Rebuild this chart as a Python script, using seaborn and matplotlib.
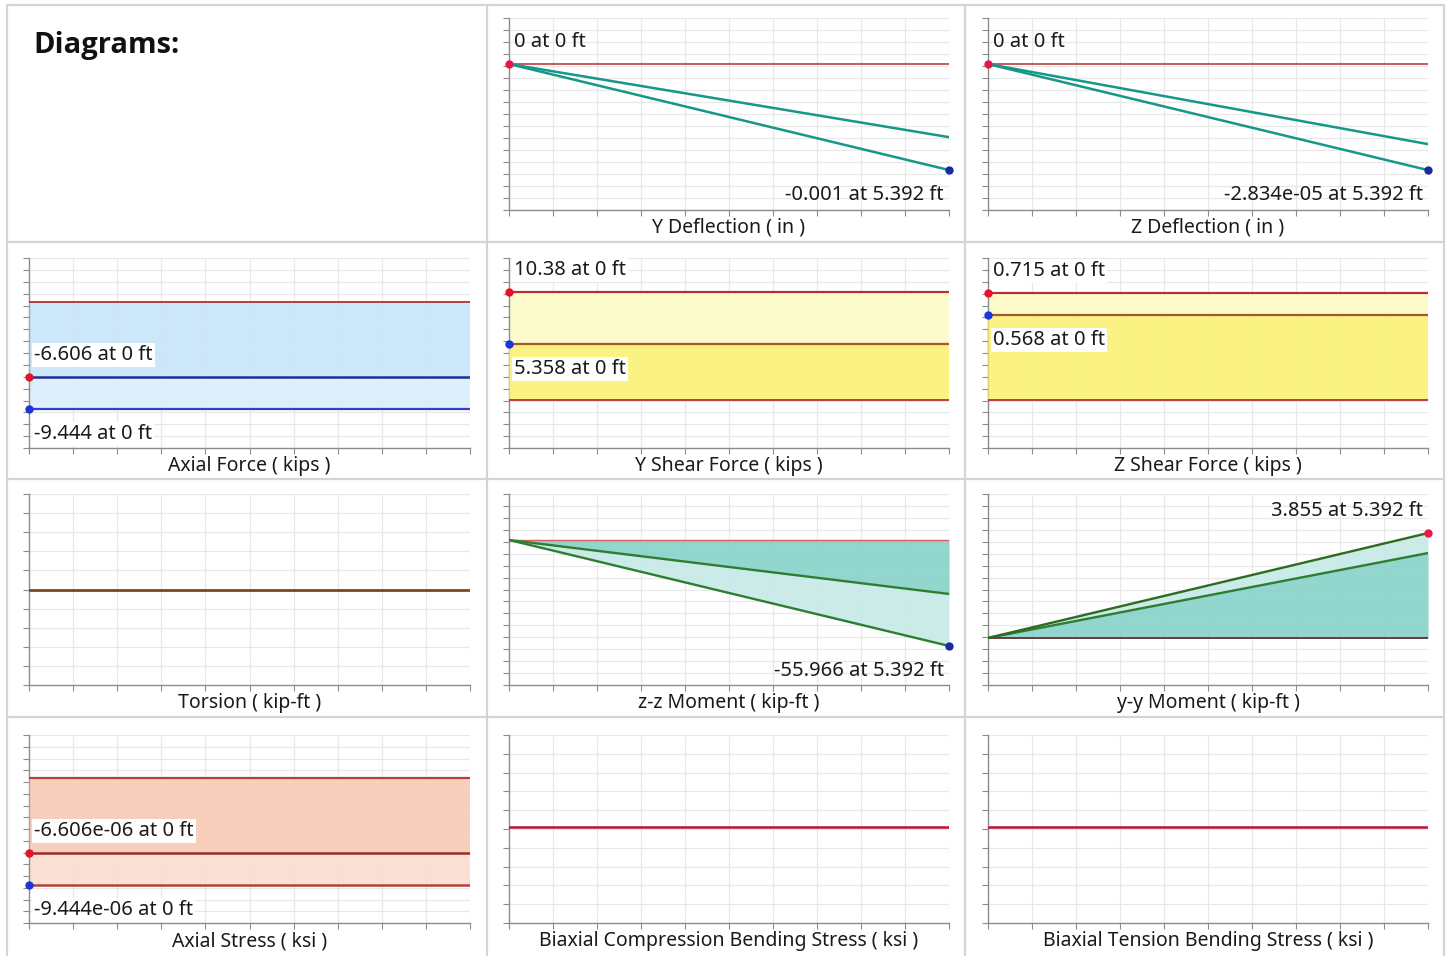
import numpy as np
import matplotlib
matplotlib.use("Agg")
import matplotlib.pyplot as plt
from matplotlib.lines import Line2D
import seaborn as sns

sns.set_theme(style="white")
plt.rcParams["font.family"] = ["Noto Sans", "DejaVu Sans"]

# ---------------- data ----------------
span_ft = [0.0, 5.392]

y_defl_a = [0.0, -0.00069]
y_defl_b = [0.0, -0.001]
z_defl_a = [0.0, -2.14e-05]
z_defl_b = [0.0, -2.834e-05]

axial_force_max = [-6.606, -6.606]
axial_force_min = [-9.444, -9.444]

y_shear_max = [10.38, 10.38]
y_shear_min = [5.358, 5.358]

z_shear_max = [0.715, 0.715]
z_shear_min = [0.568, 0.568]

torsion = [0.0, 0.0]

zz_moment_a = [0.0, -28.5]
zz_moment_b = [0.0, -55.966]

yy_moment_a = [0.0, 3.12]
yy_moment_b = [0.0, 3.855]

axial_stress_max = [-6.606e-06, -6.606e-06]
axial_stress_min = [-9.444e-06, -9.444e-06]

biax_comp = [0.0, 0.0]
biax_tens = [0.0, 0.0]

titles = ["Y Deflection ( in )", "Z Deflection ( in )",
          "Axial Force ( kips )", "Y Shear Force ( kips )", "Z Shear Force ( kips )",
          "Torsion ( kip-ft )", "z-z Moment ( kip-ft )", "y-y Moment ( kip-ft )",
          "Axial Stress ( ksi )", "Biaxial Compression Bending Stress ( ksi )",
          "Biaxial Tension Bending Stress ( ksi )"]

# ---------------- layout ----------------
W, H = 1449, 956
fig = plt.figure(figsize=(W / 100, H / 100), dpi=100)
fig.patch.set_facecolor("white")

col_x = [(29, 470), (509, 949), (988, 1428)]
row_y = [(18, 210), (258, 448), (494, 685), (735, 923)]

CELL = "#d4d4d4"
for xv in [7, 487, 965, 1444]:
    fig.add_artist(Line2D([xv / W, xv / W], [0, 1 - 5 / H], color=CELL, lw=1.6))
for yv in [5, 242, 479, 717]:
    fig.add_artist(Line2D([7 / W, 1444 / W], [1 - yv / H, 1 - yv / H], color=CELL, lw=1.6))

fig.text(33 / W, 1 - 45 / H, "Diagrams:", fontsize=21, fontweight="bold",
         family=["Open Sans", "Liberation Sans", "DejaVu Sans"], va="center", ha="left",
         color="#111111")

ZERO = "#b3312f"
TEAL = "#17968a"
FS = 14.5
FS_T = 14


def make_ax(r, c, ylim, nyt=16):
    x0, x1 = col_x[c]
    y0, y1 = row_y[r]
    ax = fig.add_axes([x0 / W, 1 - y1 / H, (x1 - x0) / W, (y1 - y0) / H])
    ax.set_xlim(span_ft[0], span_ft[1])
    ax.set_ylim(*ylim)
    ax.set_xticks(np.linspace(span_ft[0], span_ft[1], 11))
    ax.set_yticks(np.linspace(ylim[0], ylim[1], nyt + 1))
    ax.set_xticklabels([])
    ax.set_yticklabels([])
    ax.grid(True, color="#e8e8e8", lw=0.9)
    ax.set_axisbelow(True)
    for s in ["top", "right"]:
        ax.spines[s].set_visible(False)
    for s in ["left", "bottom"]:
        ax.spines[s].set_color("#8c8c8c")
        ax.spines[s].set_linewidth(1.0)
    ax.tick_params(axis="both", which="both", length=4, width=0.8, color="#8c8c8c",
                   left=True, bottom=True, direction="out", pad=0)
    ax.set_facecolor("white")
    return ax


def title(ax, t):
    ax.annotate(t, xy=(0.5, 0), xycoords="axes fraction", xytext=(0, -18),
                textcoords="offset pixels", ha="center", va="center", fontsize=FS_T,
                color="#1a1a1a")


def label(ax, x, y, t, above=True, right=False, box=True):
    dy = 22 if above else -25
    dx = -5 if right else 5
    ax.annotate(t, xy=(x, y), xycoords="data", xytext=(dx, dy), textcoords="offset pixels",
                ha="right" if right else "left", va="center", fontsize=FS, color="#1a1a1a",
                bbox=dict(boxstyle="square,pad=0.1", fc="white", ec="none") if box else None,
                zorder=10)


def line(ax, y, color, lw=1.5):
    sns.lineplot(x=span_ft, y=y, ax=ax, color=color, lw=lw, legend=False, zorder=5)


def dot(ax, x, y, color):
    ax.plot([x], [y], "o", color=color, ms=5, zorder=6, clip_on=False)


zeros = [0.0, 0.0]

# ---- Row 1: deflections ----
ax = make_ax(0, 1, (-0.001377, 0.000434))
line(ax, zeros, ZERO, 1.1)
line(ax, y_defl_a, TEAL, 1.8)
line(ax, y_defl_b, TEAL, 1.8)
dot(ax, span_ft[0], y_defl_b[0], "#e8174a")
dot(ax, span_ft[1], y_defl_b[1], "#1a2aa0")
label(ax, span_ft[0], y_defl_b[0], "0 at 0 ft", above=True, box=False)
label(ax, span_ft[1], y_defl_b[1], "-0.001 at 5.392 ft", above=False, right=True, box=False)
title(ax, titles[0])

ax = make_ax(0, 2, (-3.90e-05, 1.23e-05))
line(ax, zeros, ZERO, 1.1)
line(ax, z_defl_a, TEAL, 1.8)
line(ax, z_defl_b, TEAL, 1.8)
dot(ax, span_ft[0], z_defl_b[0], "#e8174a")
dot(ax, span_ft[1], z_defl_b[1], "#1a2aa0")
label(ax, span_ft[0], z_defl_b[0], "0 at 0 ft", above=True, box=False)
label(ax, span_ft[1], z_defl_b[1], "-2.834e-05 at 5.392 ft", above=False, right=True, box=False)
title(ax, titles[1])

# ---- Row 2: forces ----
ax = make_ax(1, 0, (-12.86, 3.88))
ax.fill_between(span_ft, zeros, axial_force_min, color="#d6ecfb", alpha=0.8, lw=0, zorder=2)
ax.fill_between(span_ft, zeros, axial_force_max, color="#b3dcf7", alpha=0.4, lw=0, zorder=3)
line(ax, zeros, ZERO, 1.3)
line(ax, axial_force_max, "#1f2e9e", 1.8)
line(ax, axial_force_min, "#2f3fd0", 1.6)
dot(ax, span_ft[0], axial_force_max[0], "#e8102a")
dot(ax, span_ft[0], axial_force_min[0], "#1a35d8")
label(ax, span_ft[0], axial_force_max[0], "-6.606 at 0 ft", above=True)
label(ax, span_ft[0], axial_force_min[0], "-9.444 at 0 ft", above=False)
title(ax, titles[2])

ax = make_ax(1, 1, (-4.59, 13.59))
ax.fill_between(span_ft, zeros, y_shear_max, color="#fdfbc4", alpha=0.85, lw=0, zorder=2)
ax.fill_between(span_ft, zeros, y_shear_min, color="#faf166", alpha=0.7, lw=0, zorder=3)
line(ax, zeros, ZERO, 1.3)
line(ax, y_shear_max, "#b3312f", 1.6)
line(ax, y_shear_min, "#a8562a", 1.6)
dot(ax, span_ft[0], y_shear_max[0], "#e8102a")
dot(ax, span_ft[0], y_shear_min[0], "#1a35d8")
label(ax, span_ft[0], y_shear_max[0], "10.38 at 0 ft", above=True)
label(ax, span_ft[0], y_shear_min[0], "5.358 at 0 ft", above=False)
title(ax, titles[3])

ax = make_ax(1, 2, (-0.321, 0.949))
ax.fill_between(span_ft, zeros, z_shear_max, color="#fdfbc4", alpha=0.85, lw=0, zorder=2)
ax.fill_between(span_ft, zeros, z_shear_min, color="#faf166", alpha=0.7, lw=0, zorder=3)
line(ax, zeros, ZERO, 1.3)
line(ax, z_shear_max, "#b3312f", 1.6)
line(ax, z_shear_min, "#a8562a", 1.6)
dot(ax, span_ft[0], z_shear_max[0], "#e8102a")
dot(ax, span_ft[0], z_shear_min[0], "#1a35d8")
label(ax, span_ft[0], z_shear_max[0], "0.715 at 0 ft", above=True)
label(ax, span_ft[0], z_shear_min[0], "0.568 at 0 ft", above=False)
title(ax, titles[4])

# ---- Row 3: torsion and moments ----
ax = make_ax(2, 0, (-1.0, 1.0), nyt=10)
line(ax, torsion, "#7a4a1e", 2.0)
title(ax, titles[5])

ax = make_ax(2, 1, (-76.6, 24.3))
ax.fill_between(span_ft, zeros, zz_moment_b, color="#c2e8e4", alpha=0.85, lw=0, zorder=2)
ax.fill_between(span_ft, zeros, zz_moment_a, color="#6cc8be", alpha=0.6, lw=0, zorder=3)
line(ax, zeros, "#e05a5a", 1.0)
line(ax, zz_moment_a, "#2e7d32", 1.7)
line(ax, zz_moment_b, "#2e7d32", 1.7)
dot(ax, span_ft[1], zz_moment_b[1], "#1a2aa0")
label(ax, span_ft[1], zz_moment_b[1], "-55.966 at 5.392 ft", above=False, right=True, box=False)
title(ax, titles[6])

ax = make_ax(2, 2, (-1.73, 5.29))
ax.fill_between(span_ft, zeros, yy_moment_b, color="#c2e8e4", alpha=0.85, lw=0, zorder=2)
ax.fill_between(span_ft, zeros, yy_moment_a, color="#6cc8be", alpha=0.6, lw=0, zorder=3)
line(ax, zeros, "#6b3a3a", 1.4)
line(ax, yy_moment_a, "#2e7d32", 1.7)
line(ax, yy_moment_b, "#2e6b22", 1.7)
dot(ax, span_ft[1], yy_moment_b[1], "#e8174a")
label(ax, span_ft[1], yy_moment_b[1], "3.855 at 5.392 ft", above=True, right=True, box=False)
title(ax, titles[7])

# ---- Row 4: stresses ----
ax = make_ax(3, 0, (-12.78e-06, 3.79e-06))
ax.fill_between(span_ft, zeros, axial_stress_min, color="#fbd9cb", alpha=0.8, lw=0, zorder=2)
ax.fill_between(span_ft, zeros, axial_stress_max, color="#f6b9a0", alpha=0.45, lw=0, zorder=3)
line(ax, zeros, "#b3413a", 1.6)
line(ax, axial_stress_max, "#9e2a2a", 1.8)
line(ax, axial_stress_min, "#b3413a", 1.8)
dot(ax, span_ft[0], axial_stress_max[0], "#e8102a")
dot(ax, span_ft[0], axial_stress_min[0], "#1a35d8")
label(ax, span_ft[0], axial_stress_max[0], "-6.606e-06 at 0 ft", above=True)
label(ax, span_ft[0], axial_stress_min[0], "-9.444e-06 at 0 ft", above=False)
title(ax, titles[8])

ax = make_ax(3, 1, (-1.04, 1.0), nyt=10)
line(ax, biax_comp, "#c0102e", 1.8)
title(ax, titles[9])

ax = make_ax(3, 2, (-1.04, 1.0), nyt=10)
line(ax, biax_tens, "#c0102e", 1.8)
title(ax, titles[10])

fig.savefig("out.png", dpi=100, facecolor="white")
